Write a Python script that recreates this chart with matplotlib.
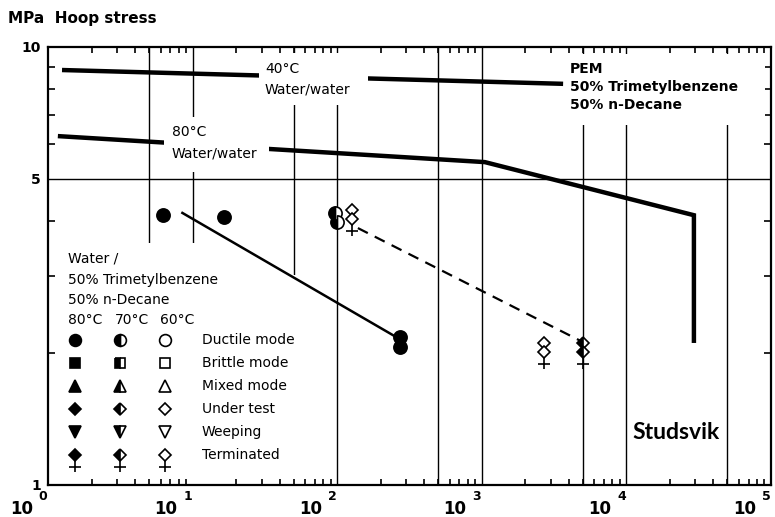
import matplotlib
matplotlib.use('Agg')
import matplotlib.pyplot as plt
from matplotlib.patches import Rectangle, Polygon
from matplotlib.path import Path
from matplotlib.ticker import NullFormatter, FixedLocator

plt.rcParams['font.family'] = ['DejaVu Sans']

# reference curves, water/water (hours, MPa)
t40 = [1.25, 3650]
s40 = [8.86, 8.24]
t80 = [1.17, 1050, 29300, 29300]
s80 = [6.26, 5.46, 4.13, 2.11]

# 80 C, ductile failures
t80_ductile = [6.2, 16.5, 272, 272]
s80_ductile = [4.13, 4.09, 2.18, 2.07]
fit80_t = [8.5, 260]
fit80_s = [4.18, 2.17]

# 70 C
t70_ductile = [97, 100]
s70_ductile = [4.18, 3.99]
t70_test = [5000]
s70_test = [2.11]
t70_term = [5000]
s70_term = [2.01]

# 60 C
t60_test = [126, 2700]
s60_test = [4.24, 2.11]
t60_term = [126, 2700]
s60_term = [4.05, 2.01]
fit_dash_t = [139, 5000]
fit_dash_s = [3.86, 2.12]

grid_hours = [5, 10, 50, 100, 500, 1000, 5000, 10000, 50000]
decades = [0, 1, 2, 3, 4, 5]

legend_rows = ['Ductile mode', 'Brittle mode', 'Mixed mode',
               'Under test', 'Weeping', 'Terminated']
legend_markers = ['o', 's', '^', 'D', 'v', 'D']
legend_sizes = [8.5, 7.5, 8.5, 6.5, 8.5, 6.5]
temps = ['80°C', '70°C', '60°C']

# stem + cross drawn below a diamond for "Terminated"
stem = Path([(0, -5), (0, -17), (-6, -12), (6, -12)],
            [Path.MOVETO, Path.LINETO, Path.MOVETO, Path.LINETO])
STEM_MS = 24.5


def marker_kw(temp_idx, ms):
    kw = dict(color='black', markeredgecolor='black', markersize=ms,
              markeredgewidth=1.2, linestyle='none')
    if temp_idx == 0:
        kw.update(markerfacecolor='black')
    elif temp_idx == 1:
        kw.update(fillstyle='left', markerfacecolor='black',
                  markerfacecoloralt='white')
    else:
        kw.update(markerfacecolor='white')
    return kw


def terminated(ax, x, y, temp_idx, ms=6.5, **extra):
    ax.plot(x, y, 'D', zorder=4, **marker_kw(temp_idx, ms), **extra)
    ax.plot(x, y, marker=stem, linestyle='none', markersize=STEM_MS,
            color='black', markeredgewidth=1.2, fillstyle='none',
            zorder=4, **extra)


fig = plt.figure(figsize=(7.75, 5.17), dpi=100)
ax = fig.add_axes([48/775, 32/517, 723/775, 438/517])
ax.set_xscale('log')
ax.set_yscale('log')
ax.set_xlim(1, 1e5)
ax.set_ylim(1, 10)

for x in grid_hours:
    ax.axvline(x, color='black', lw=1.0, zorder=1)
ax.axhline(5, color='black', lw=1.0, zorder=1)

# white areas behind the labels (above the curves) and the legend
masks = [(0.2918, 0.8676, 0.1508, 0.118),
         (0.1604, 0.7146, 0.1453, 0.1256),
         (0.715, 0.822, 0.277, 0.163)]
for x0, y0, w, h in masks:
    ax.add_patch(Rectangle((x0, y0), w, h, transform=ax.transAxes,
                           facecolor='white', edgecolor='none', zorder=2.2))
ax.add_patch(Polygon([(0, 0.5525), (0.2794, 0.5525), (0.2794, 0.4795),
                      (0.3513, 0.4795), (0.3513, 0), (0, 0)],
                     transform=ax.transAxes, facecolor='white',
                     edgecolor='none', zorder=1.2))

ax.plot(t40, s40, color='black', lw=3.2, solid_capstyle='butt', zorder=2)
ax.plot(t80, s80, color='black', lw=3.2, solid_capstyle='butt',
        solid_joinstyle='miter', zorder=2)
ax.plot(fit80_t, fit80_s, color='black', lw=1.8, zorder=2.5)
ax.plot(fit_dash_t, fit_dash_s, color='black', lw=1.6,
        dashes=(5, 3.5), zorder=2.5)

ax.plot(t80_ductile, s80_ductile, 'o', zorder=4, **marker_kw(0, 9.5))
ax.plot(t70_ductile, s70_ductile, 'o', zorder=4, **marker_kw(1, 9.5))
ax.plot(t70_test, s70_test, 'D', zorder=4, **marker_kw(1, 6.5))
terminated(ax, t70_term, s70_term, 1)
ax.plot(t60_test, s60_test, 'D', zorder=4, **marker_kw(2, 6.5))
terminated(ax, t60_term, s60_term, 2)

# labels in the plot
ax.text(0.3001, 0.950, '40°C', transform=ax.transAxes, fontsize=10,
        va='center', zorder=5)
ax.text(0.3001, 0.904, 'Water/water', transform=ax.transAxes, fontsize=10,
        va='center', zorder=5)
ax.text(0.1715, 0.806, '80°C', transform=ax.transAxes, fontsize=10,
        va='center', zorder=5)
ax.text(0.1715, 0.756, 'Water/water', transform=ax.transAxes, fontsize=10,
        va='center', zorder=5)
for i, s in enumerate(['PEM', '50% Trimetylbenzene', '50% n-Decane']):
    ax.text(0.722, 0.950 - i*0.041, s, transform=ax.transAxes, fontsize=10,
            weight='bold', va='center', zorder=5)
ax.text(0.8686, 0.121, 'Studsvik', transform=ax.transAxes, fontsize=16.5,
        family='Lato', weight='bold', ha='center', va='center', zorder=5)

# legend
for i, s in enumerate(['Water /', '50% Trimetylbenzene', '50% n-Decane']):
    ax.text(0.0277, 0.516 - i*0.047, s, transform=ax.transAxes, fontsize=10,
            va='center', zorder=5)
for x, s in zip([0.0277, 0.0927, 0.155], temps):
    ax.text(x, 0.377, s, transform=ax.transAxes, fontsize=10,
            va='center', zorder=5)
col_x = [0.0373, 0.0996, 0.1618]
for r, (label, m, ms) in enumerate(zip(legend_rows, legend_markers,
                                       legend_sizes)):
    y = 0.331 - r*0.0525
    for c, x in enumerate(col_x):
        if label == 'Terminated':
            terminated(ax, [x], [y], c, ms=ms, transform=ax.transAxes,
                       clip_on=False)
        else:
            ax.plot([x], [y], m, transform=ax.transAxes, clip_on=False,
                    zorder=4, **marker_kw(c, ms))
    ax.text(0.213, y, label, transform=ax.transAxes, fontsize=10,
            va='center', zorder=5)

# ticks
ax.tick_params(which='both', direction='in', top=True, right=True,
               width=1.2, colors='black')
ax.tick_params(axis='x', which='major', length=0)
ax.tick_params(axis='x', which='minor', length=4)
ax.xaxis.set_major_formatter(NullFormatter())
ax.xaxis.set_minor_formatter(NullFormatter())
ax.yaxis.set_major_locator(FixedLocator([1, 5, 10]))
ax.yaxis.set_minor_locator(FixedLocator([2, 3, 4, 6, 7, 8, 9]))
ax.yaxis.set_minor_formatter(NullFormatter())
ax.set_yticklabels(['1', '5', '10'], fontsize=10, weight='bold')
ax.tick_params(axis='y', which='major', length=0, pad=5)
ax.tick_params(axis='y', which='minor', length=5)
for sp in ax.spines.values():
    sp.set_linewidth(1.6)

xt = ax.get_xaxis_transform()
for e in decades:
    ax.annotate('10', xy=(10**e, 0), xycoords=xt, xytext=(-11, -17.3),
                textcoords='offset points', ha='right', va='center',
                fontsize=12, weight='bold', annotation_clip=False)
    ax.annotate(str(e), xy=(10**e, 0), xycoords=xt, xytext=(-0.5, -8),
                textcoords='offset points', ha='right', va='center',
                fontsize=9, weight='bold', annotation_clip=False)

fig.text(8/775, 1 - 19/517, 'MPa  Hoop stress', fontsize=11,
         weight='bold', va='center')

fig.savefig('out.png', dpi=100)
